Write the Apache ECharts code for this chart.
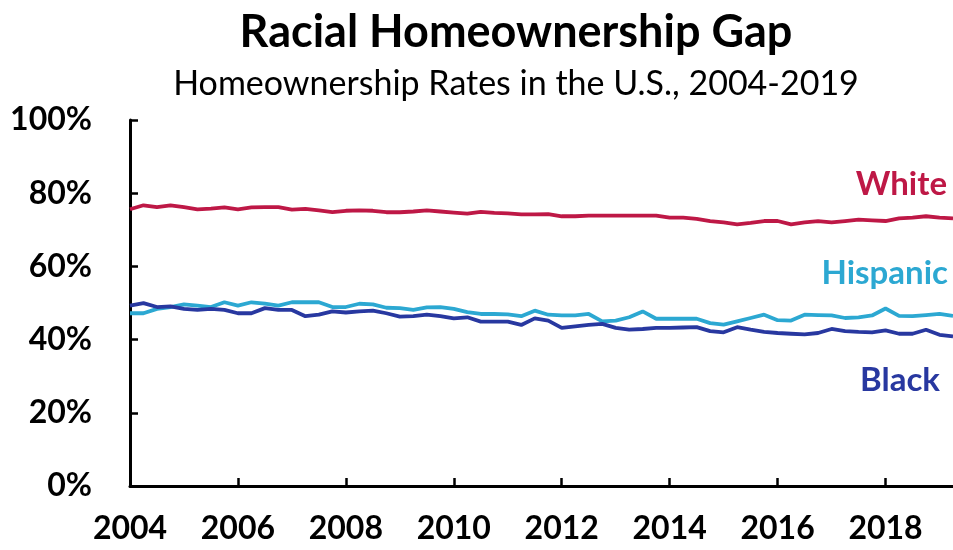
<!DOCTYPE html>
<html>
<head>
<meta charset="utf-8">
<script src="https://cdn.jsdelivr.net/npm/echarts@6/dist/echarts.min.js"></script>
<style>html,body{margin:0;padding:0;background:#fff}#c{width:953px;height:550px}</style>
</head>
<body>
<div id="c"></div>
<script>
// Quarterly, 2004 Q1 .. 2019 Q2
var startYear = 2004;
var xTickLabels = ['2004','2006','2008','2010','2012','2014','2016','2018'];
var yTickLabels = ['0%','20%','40%','60%','80%','100%'];
var white = [75.6,76.7,76.2,76.7,76.2,75.6,75.8,76.1,75.6,76.1,76.2,76.2,75.5,75.7,75.3,74.8,75.2,75.3,75.2,74.8,
  74.8,75.0,75.3,75.0,74.7,74.4,74.9,74.6,74.5,74.2,74.2,74.3,73.7,73.7,73.9,73.9,73.9,73.9,73.9,73.9,
  73.3,73.3,73.0,72.4,72.0,71.5,71.9,72.4,72.4,71.5,72.0,72.4,72.0,72.4,72.8,72.6,72.4,73.1,73.3,73.7,73.3,73.1];
var hispanic = [47.2,47.2,48.4,48.9,49.6,49.3,48.9,50.2,49.3,50.2,49.8,49.3,50.2,50.2,50.2,48.9,48.9,49.8,49.6,48.7,
  48.6,48.1,48.8,48.9,48.4,47.5,47.0,47.0,46.9,46.4,47.9,46.8,46.6,46.6,47.0,45.0,45.2,46.1,47.7,45.7,
  45.7,45.7,45.7,44.5,44.1,45.0,45.9,46.8,45.3,45.2,46.8,46.7,46.6,45.9,46.1,46.6,48.5,46.5,46.4,46.7,47.0,46.5];
var black = [49.3,49.95,48.9,49.1,48.4,48.1,48.4,48.1,47.2,47.2,48.6,48.1,48.1,46.4,46.8,47.7,47.4,47.7,47.9,47.2,
  46.3,46.4,46.8,46.4,45.8,46.1,44.9,44.9,44.9,44.0,45.8,45.2,43.2,43.6,44.0,44.3,43.2,42.7,42.9,43.2,
  43.2,43.3,43.4,42.3,42.0,43.4,42.7,42.1,41.8,41.6,41.4,41.8,42.9,42.3,42.1,42.0,42.5,41.6,41.6,42.7,41.3,40.9];

function toPairs(arr){ return arr.map(function(v,i){ return [startYear + i/4, v]; }); }

var FONT = 'Lato';
var chart = echarts.init(document.getElementById('c'), null, {renderer:'canvas'});
chart.setOption({
  animation:false,
  backgroundColor:'#fff',
  title:[
    {text:'Racial Homeownership Gap', left:511, top:5, textAlign:'center',
     textStyle:{fontFamily:FONT, fontWeight:'bold', fontSize:45, color:'#000'}},
    {text:'Homeownership Rates in the U.S., 2004-2019', left:511, top:62, textAlign:'center',
     textStyle:{fontFamily:FONT, fontWeight:'normal', fontSize:34, color:'#000'}}
  ],
  grid:{left:130, right:0, top:120, bottom:64, containLabel:false},
  xAxis:{
    type:'value', min:2004, max:2019.25, interval:2,
    axisLine:{show:true, lineStyle:{color:'#000', width:3}},
    axisTick:{show:true, inside:true, length:8, lineStyle:{color:'#000', width:2.5}},
    splitLine:{show:false},
    axisLabel:{showMaxLabel:false, showMinLabel:true, margin:27,
      fontFamily:FONT, fontWeight:'bold', fontSize:32, color:'#000',
      formatter:function(v){ var s=String(Math.round(v)); return xTickLabels.indexOf(s)>=0 ? s : ''; }}
  },
  yAxis:{
    type:'value', min:0, max:100, interval:20,
    axisLine:{show:true, lineStyle:{color:'#000', width:3}},
    axisTick:{show:true, inside:true, length:8, lineStyle:{color:'#000', width:2.5}},
    splitLine:{show:false},
    axisLabel:{margin:38, fontFamily:FONT, fontWeight:'bold', fontSize:32, color:'#000',
      formatter:function(v){ return yTickLabels[Math.round(v/20)]; }}
  },
  series:[
    {name:'White', type:'line', data:toPairs(white), showSymbol:false, smooth:false,
     lineStyle:{color:'#BE1846', width:3.8}, itemStyle:{color:'#BE1846'}},
    {name:'Hispanic', type:'line', data:toPairs(hispanic), showSymbol:false,
     lineStyle:{color:'#2CA8D2', width:3.8}, itemStyle:{color:'#2CA8D2'}},
    {name:'Black', type:'line', data:toPairs(black), showSymbol:false,
     lineStyle:{color:'#2838A0', width:3.8}, itemStyle:{color:'#2838A0'}}
  ],
  graphic:[
    {type:'text', right:6, top:168, style:{text:'White', fill:'#BE1846', font:'bold 33px '+FONT}},
    {type:'text', right:5, top:257, style:{text:'Hispanic', fill:'#2CA8D2', font:'bold 33px '+FONT}},
    {type:'text', right:13, top:364, style:{text:'Black', fill:'#2838A0', font:'bold 33px '+FONT}}
  ]
});
</script>
</body>
</html>
